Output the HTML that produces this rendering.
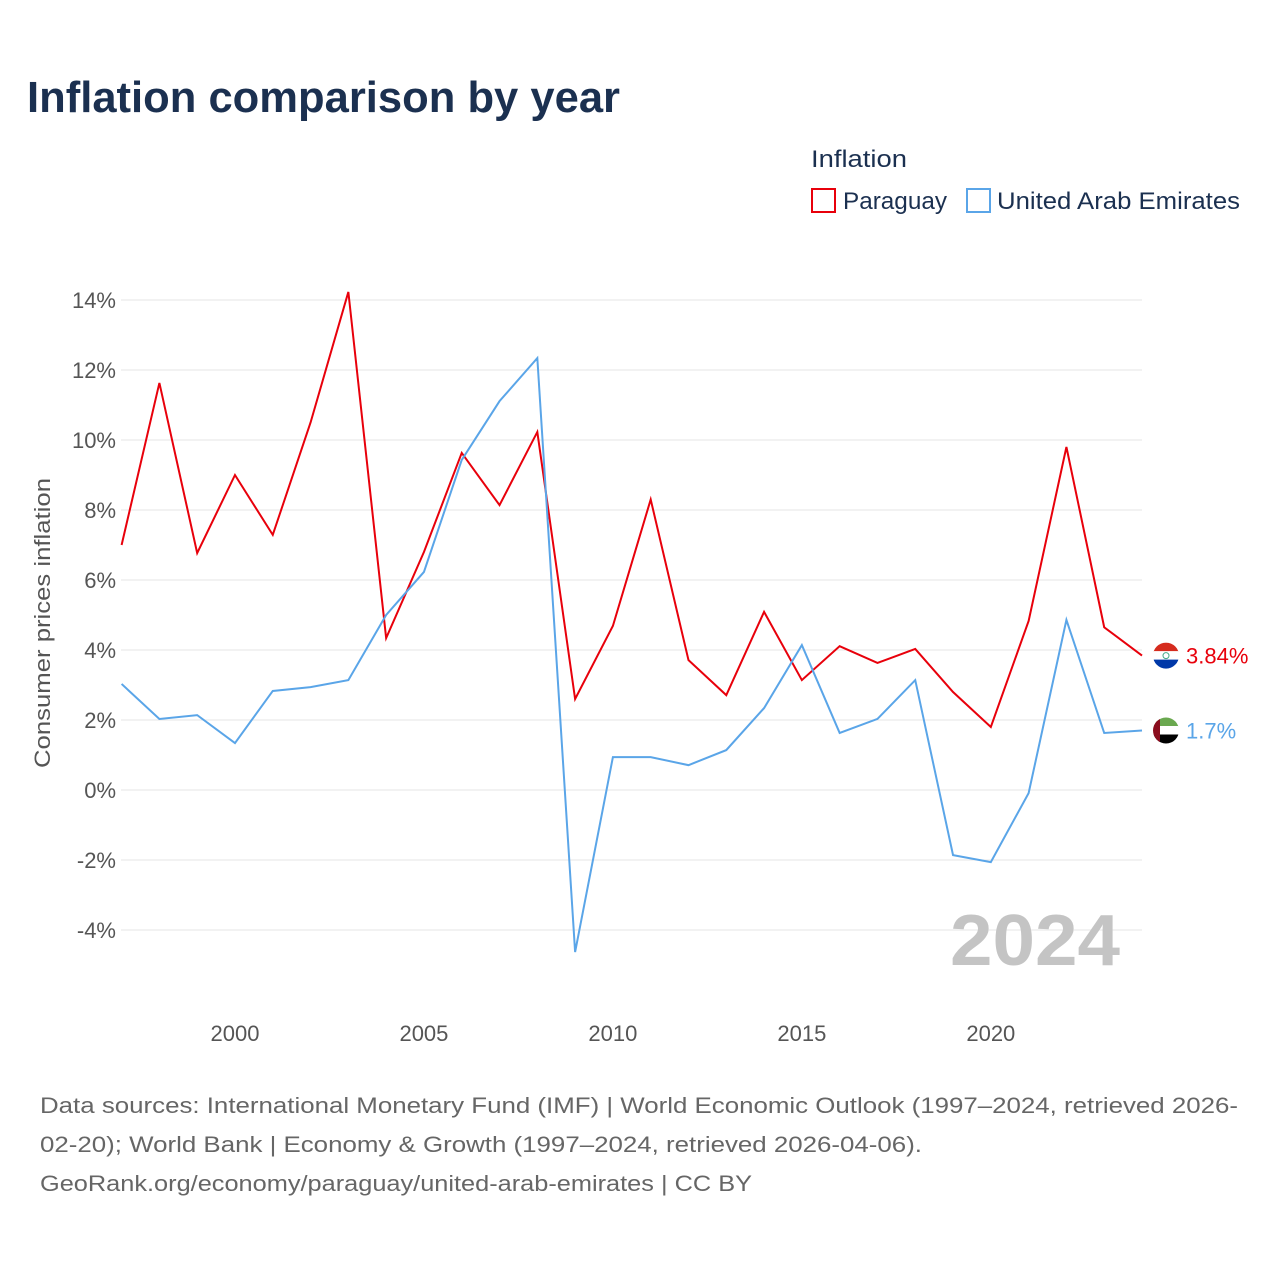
<!DOCTYPE html>
<html><head><meta charset="utf-8"><style>
body{margin:0;background:#fff;font-family:"Liberation Sans",sans-serif;}
</style></head><body>
<svg width="1280" height="1280" xmlns="http://www.w3.org/2000/svg" style="font-family:'Liberation Sans',sans-serif">
<defs>
<clipPath id="cp1"><circle cx="1166" cy="0" r="13"/></clipPath>
</defs>
<text x="27" y="112" font-size="44" font-weight="bold" fill="#1b3050" textLength="593" lengthAdjust="spacingAndGlyphs">Inflation comparison by year</text>
<text x="811" y="167" font-size="24" fill="#1b3050" textLength="96" lengthAdjust="spacingAndGlyphs">Inflation</text>
<g><rect x="812" y="189" width="23" height="23" fill="none" stroke="#e8000b" stroke-width="2"/><text x="843" y="209" font-size="24" fill="#1b3050" textLength="104" lengthAdjust="spacingAndGlyphs">Paraguay</text></g>
<g><rect x="967" y="189" width="23" height="23" fill="none" stroke="#5aa5e8" stroke-width="2"/><text x="997" y="209" font-size="24" fill="#1b3050" textLength="243" lengthAdjust="spacingAndGlyphs">United Arab Emirates</text></g>
<text transform="translate(50,623) rotate(-90)" text-anchor="middle" font-size="22" fill="#555" textLength="290" lengthAdjust="spacingAndGlyphs">Consumer prices inflation</text>
<g id="grid"></g><g id="yt"></g><g id="xt"></g>
<text x="1120" y="965" text-anchor="end" font-size="72" font-weight="bold" fill="#c4c4c4" textLength="170" lengthAdjust="spacingAndGlyphs">2024</text>
<g id="lines"></g>
<text x="40" y="1113" font-size="22" fill="#666" textLength="1198" lengthAdjust="spacingAndGlyphs">Data sources: International Monetary Fund (IMF) | World Economic Outlook (1997–2024, retrieved 2026-</text>
<text x="40" y="1152" font-size="22" fill="#666" textLength="882" lengthAdjust="spacingAndGlyphs">02-20); World Bank | Economy &amp; Growth (1997–2024, retrieved 2026-04-06).</text>
<text x="40" y="1191" font-size="22" fill="#666" textLength="712" lengthAdjust="spacingAndGlyphs">GeoRank.org/economy/paraguay/united-arab-emirates | CC BY</text>
</svg>
<script>
const years=[1997,1998,1999,2000,2001,2002,2003,2004,2005,2006,2007,2008,2009,2010,2011,2012,2013,2014,2015,2016,2017,2018,2019,2020,2021,2022,2023,2024];
const paraguay=[7.0,11.63,6.77,9.0,7.29,10.5,14.23,4.34,6.8,9.63,8.14,10.23,2.6,4.69,8.3,3.71,2.71,5.09,3.14,4.11,3.63,4.03,2.8,1.8,4.83,9.8,4.65,3.84];
const uae=[3.03,2.03,2.14,1.34,2.83,2.94,3.14,5.0,6.23,9.43,11.11,12.34,-4.63,0.94,0.94,0.71,1.14,2.34,4.14,1.63,2.03,3.14,-1.86,-2.06,-0.09,4.86,1.63,1.7];
const yTicks=[-4,-2,0,2,4,6,8,10,12,14];
const xTicks=[2000,2005,2010,2015,2020];
const NS="http://www.w3.org/2000/svg";
const X=y=>121.6+(y-1997)*(1142-121.6)/27;
const Y=v=>790-v*35;
function mk(t,a,p){const e=document.createElementNS(NS,t);for(const k in a)e.setAttribute(k,a[k]);p.appendChild(e);return e;}
const g=document.getElementById('grid'),yt=document.getElementById('yt'),xt=document.getElementById('xt'),L=document.getElementById('lines');
yTicks.forEach(v=>{const l=mk('line',{x1:121,x2:1142,y1:Y(v),y2:Y(v),stroke:'#e6e6e6'},g);


const t=mk('text',{x:116,y:Y(v)+8,'text-anchor':'end','font-size':22,fill:'#555'},yt);t.textContent=v+'%';

});
xTicks.forEach(v=>{const t=mk('text',{x:X(v),y:1041,'text-anchor':'middle','font-size':22,fill:'#555'},xt);t.textContent=v;

});
function series(d,c,name,lbl,flag,idx){
const p=mk('polyline',{points:d.map((v,i)=>X(years[i])+','+Y(v)).join(' '),fill:'none',stroke:c,'stroke-width':2},L);


const last=d[d.length-1],cy=Y(last);
const cp=mk('clipPath',{id:'fc'+idx},L);mk('circle',{cx:1166,cy:cy,r:13},cp);
const f=mk('g',{'clip-path':'url(#fc'+idx+')'},L);


flag(f,cy);
const t=mk('text',{x:1186,y:cy+8,'font-size':22,fill:c},L);t.textContent=lbl;

}
series(paraguay,'#e8000b','paraguay','3.84%',(f,cy)=>{
mk('rect',{x:1150,y:cy-13,width:32,height:9,fill:'#d52b1e'},f);
mk('rect',{x:1150,y:cy-4.5,width:32,height:9,fill:'#fff'},f);
mk('rect',{x:1150,y:cy+4,width:32,height:10,fill:'#0038a8'},f);
mk('circle',{cx:1166,cy:cy,r:3,fill:'none',stroke:'#4a8',"stroke-width":1},f);},0);
series(uae,'#5aa5e8','uae','1.7%',(f,cy)=>{
mk('rect',{x:1150,y:cy-13,width:32,height:9,fill:'#6aa84f'},f);
mk('rect',{x:1150,y:cy-4.5,width:32,height:9,fill:'#fff'},f);
mk('rect',{x:1150,y:cy+4,width:32,height:10,fill:'#000'},f);
mk('rect',{x:1150,y:cy-13,width:10,height:26,fill:'#8b0d1e'},f);},1);
</script>
</body></html>
